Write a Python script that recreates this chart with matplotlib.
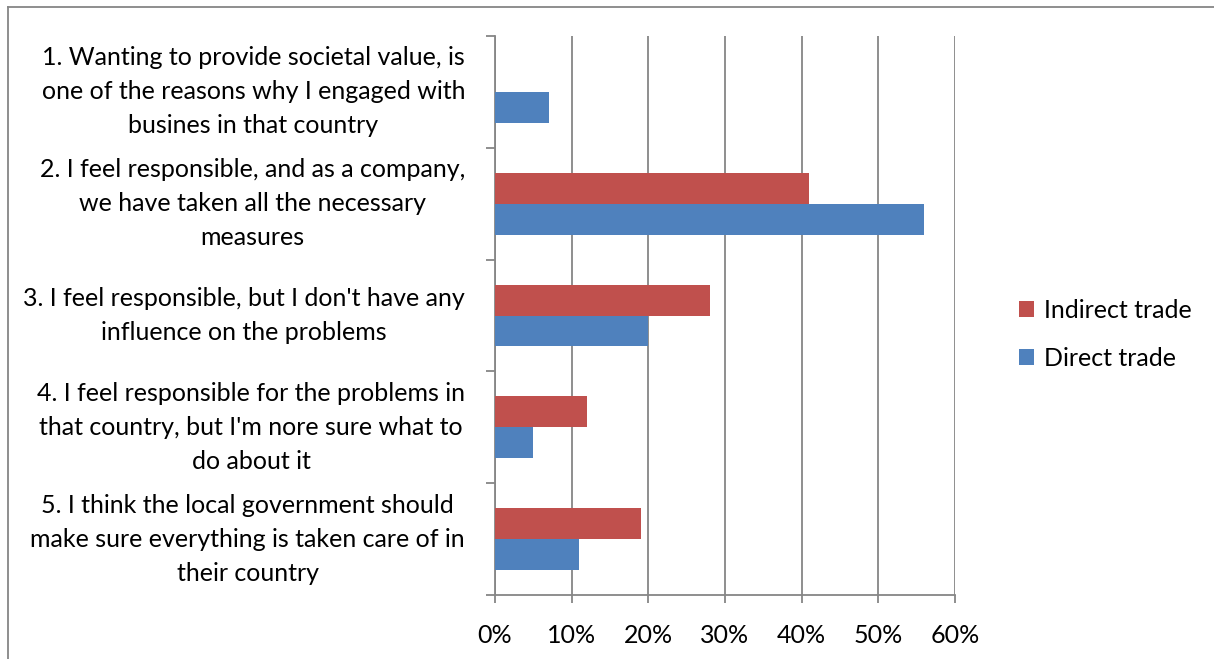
import numpy as np
import matplotlib
matplotlib.use('Agg')
from matplotlib import pyplot as plt
from matplotlib.lines import Line2D
from matplotlib.ticker import PercentFormatter
import matplotlib.transforms as mtransforms

categories = [
    "1. Wanting to provide societal value, is\none of the reasons why I engaged with\nbusines in that country",
    "2. I feel responsible, and as a company,\nwe have taken all the necessary\nmeasures",
    "3. I feel responsible, but I don't have any\ninfluence on the problems",
    "4. I feel responsible for the problems in\nthat country, but I'm nore sure what to\ndo about it",
    "5. I think the local government should\nmake sure everything is taken care of in\ntheir country",
]
indirect_trade = [0, 41, 28, 12, 19]
direct_trade = [7, 56, 20, 5, 11]
x_ticks = [0, 10, 20, 30, 40, 50, 60]

RED = '#C0504D'
BLUE = '#4F81BD'
GREY = '#868686'

plt.rcParams['font.family'] = ['Lato', 'DejaVu Sans']

W, H = 1214, 659
fig = plt.figure(figsize=(W / 100, H / 100), dpi=100)
ax = fig.add_axes([495 / W, (H - 595) / H, (955 - 495) / W, (595 - 36) / H])

y = np.arange(len(categories))
bar_h = 0.277
ax.barh(y - bar_h / 2, indirect_trade, height=bar_h, color=RED, label='Indirect trade', zorder=3)
ax.barh(y + bar_h / 2, direct_trade, height=bar_h, color=BLUE, label='Direct trade', zorder=3)

ax.set_xlim(0, 60)
ax.set_ylim(len(categories) - 0.5, -0.5)
ax.set_xticks(x_ticks)
ax.xaxis.set_major_formatter(PercentFormatter(decimals=0))
ax.set_yticks(np.arange(-0.5, len(categories), 1.0))
ax.set_yticklabels([])
ax.grid(axis='x', color=GREY, linewidth=1.3, zorder=0)

for side in ['top', 'right']:
    ax.spines[side].set_visible(False)
for side in ['left', 'bottom']:
    ax.spines[side].set_color(GREY)
    ax.spines[side].set_linewidth(1.3)
ax.tick_params(axis='x', direction='out', length=6, width=1.3, color=GREY,
               labelsize=18, pad=15)
ax.tick_params(axis='y', direction='out', length=6.5, width=1.3, color=GREY)

trans = mtransforms.blended_transform_factory(fig.transFigure, ax.transData)
for yi, label in zip(y, categories):
    ax.text(465 / W, yi, label, transform=trans, ha='right', va='center',
            multialignment='center', fontsize=18, linespacing=1.58)

handles, labels = ax.get_legend_handles_labels()
fig.legend(handles, labels, loc='center left', bbox_to_anchor=(997 / W, 1 - 334 / H),
           frameon=False, fontsize=18, handlelength=0.6, handleheight=0.6,
           handletextpad=0.4, labelspacing=1.0)

# outer chart border (left and top edges visible)
fig.add_artist(Line2D([8 / W, 8 / W], [0, 1 - 7 / H], color=GREY, linewidth=1.3))
fig.add_artist(Line2D([8 / W, 1], [1 - 7 / H, 1 - 7 / H], color=GREY, linewidth=1.3))

fig.savefig('out.png', dpi=100)
